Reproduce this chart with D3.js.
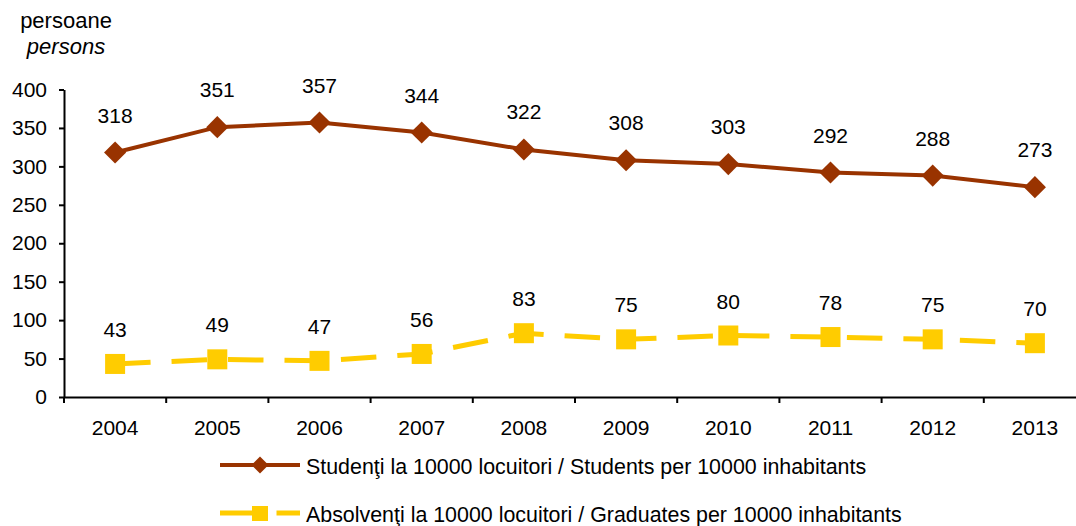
<!DOCTYPE html>
<html>
<head>
    <meta charset="utf-8">
    <style>
        body {
            margin: 0;
            background: #fff;
            font-family: 'Liberation Sans', Arial, sans-serif;
        }

        svg {
            display: block;
        }

        .axis text {
            font-size: 21px;
            font-family: 'Liberation Sans', Arial, sans-serif;
            fill: #000;
        }

        .axis .domain,
        .axis .tick line {
            stroke: #000;
            stroke-width: 2;
        }

        .val {
            font-size: 21px;
            fill: #000;
            text-anchor: middle;
        }

        .legend text {
            font-size: 21.4px;
            fill: #000;
        }

        .unit {
            font-size: 22px;
            text-anchor: middle;
        }
    </style>
</head>
<body>
    <svg width="1076" height="526"></svg>

    <script src="https://d3js.org/d3.v7.min.js"></script>
    <script>
        let years = ["2004", "2005", "2006", "2007", "2008", "2009", "2010", "2011", "2012", "2013"];
        let students = [318, 351, 357, 344, 322, 308, 303, 292, 288, 273];
        let graduates = [43, 49, 47, 56, 83, 75, 80, 78, 75, 70];
        let yTicks = [0, 50, 100, 150, 200, 250, 300, 350, 400];
        let studentsName = "Studenţi la 10000 locuitori / Students per 10000 inhabitants";
        let graduatesName = "Absolvenţi la 10000 locuitori / Graduates per 10000 inhabitants";

        let brown = "#993300";
        let yellow = "#ffcc00";
        let dash = "35.5,21";

        let svg = d3.select("svg");

        let margin = { left: 64, top: 89.5, bottom: 397 };

        let x = d3.scaleBand()
            .domain(years)
            .range([margin.left, margin.left + 10 * 102.2]);

        let y = d3.scaleLinear()
            .domain([0, 400])
            .range([margin.bottom, margin.top]);

        let cx = d => x(d) + x.bandwidth() / 2;

        // unit label (ro / en)
        svg.append("text")
            .attr("class", "unit")
            .attr("x", 66).attr("y", 28)
            .text("persoane");

        svg.append("text")
            .attr("class", "unit")
            .attr("x", 66).attr("y", 54)
            .style("font-style", "italic")
            .text("persons");

        // axes
        svg.append("g")
            .attr("class", "axis y")
            .attr("transform", `translate(${margin.left},0)`)
            .call(d3.axisLeft(y).tickValues(yTicks).tickSize(5).tickPadding(12).tickSizeOuter(0));

        let xAxis = svg.append("g")
            .attr("class", "axis x")
            .attr("transform", `translate(0,${margin.bottom})`)
            .call(d3.axisBottom(x).tickSize(0).tickPadding(23).tickSizeOuter(0));

        // tick marks between categories
        xAxis.selectAll(".sep")
            .data(years)
            .join("line")
            .attr("class", "sep")
            .attr("x1", d => x(d))
            .attr("x2", d => x(d))
            .attr("y1", 0)
            .attr("y2", 6)
            .style("stroke", "#000")
            .style("stroke-width", 2);

        let line = d3.line()
            .x(d => cx(d.year))
            .y(d => y(d.v));

        let sData = years.map((yr, i) => ({ year: yr, v: students[i] }));
        let gData = years.map((yr, i) => ({ year: yr, v: graduates[i] }));

        // graduates (dashed, squares)
        svg.append("path")
            .datum(gData)
            .attr("d", line)
            .style("fill", "none")
            .style("stroke", yellow)
            .style("stroke-width", 5)
            .style("stroke-dasharray", dash);

        svg.append("g")
            .selectAll("rect")
            .data(gData)
            .join("rect")
            .attr("x", d => cx(d.year) - 10)
            .attr("y", d => y(d.v) - 10)
            .attr("width", 20)
            .attr("height", 20)
            .style("fill", yellow);

        // students (solid, diamonds)
        svg.append("path")
            .datum(sData)
            .attr("d", line)
            .style("fill", "none")
            .style("stroke", brown)
            .style("stroke-width", 4);

        let diamond = d3.symbol().type(d3.symbolSquare).size(245);

        svg.append("g")
            .selectAll("path")
            .data(sData)
            .join("path")
            .attr("d", diamond)
            .attr("transform", d => `translate(${cx(d.year)},${y(d.v)}) rotate(45)`)
            .style("fill", brown);

        // value labels
        svg.append("g")
            .selectAll("text")
            .data(sData)
            .join("text")
            .attr("class", "val")
            .attr("x", d => cx(d.year))
            .attr("y", d => y(d.v) - 30)
            .text(d => d.v);

        svg.append("g")
            .selectAll("text")
            .data(gData)
            .join("text")
            .attr("class", "val")
            .attr("x", d => cx(d.year))
            .attr("y", d => y(d.v) - 27)
            .text(d => d.v);

        // legend
        let legend = svg.append("g").attr("class", "legend");

        legend.append("line")
            .attr("x1", 220).attr("x2", 300)
            .attr("y1", 465).attr("y2", 465)
            .style("stroke", brown).style("stroke-width", 4);
        legend.append("path")
            .attr("d", d3.symbol().type(d3.symbolSquare).size(145))
            .attr("transform", "translate(260,465) rotate(45)")
            .style("fill", brown);
        legend.append("text")
            .attr("x", 306).attr("y", 474)
            .text(studentsName);

        legend.append("line")
            .attr("x1", 220).attr("x2", 300)
            .attr("y1", 513).attr("y2", 513)
            .style("stroke", yellow).style("stroke-width", 5)
            .style("stroke-dasharray", dash);
        legend.append("rect")
            .attr("x", 252).attr("y", 506)
            .attr("width", 16).attr("height", 15)
            .style("fill", yellow);
        legend.append("text")
            .attr("x", 306).attr("y", 522)
            .text(graduatesName);
    </script>
</body>
</html>
